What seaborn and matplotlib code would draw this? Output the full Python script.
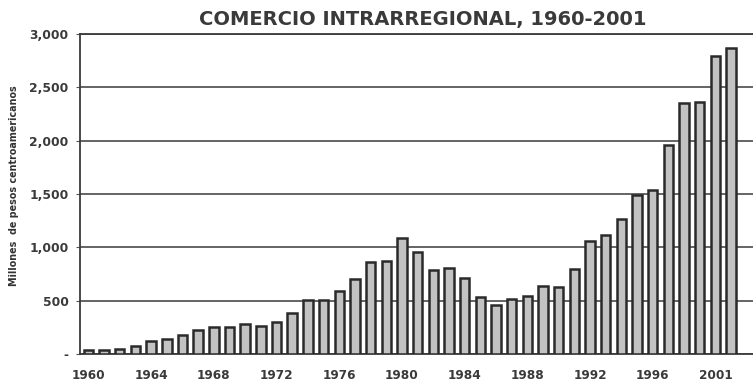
import matplotlib
matplotlib.use("Agg")
import matplotlib.pyplot as plt
import seaborn as sns
import pandas as pd
import numpy as np

# Intraregional trade, millions of Central American pesos
years = list(range(1960, 2002))
values = [35, 40, 45, 72, 125, 140, 180, 225, 250, 255,
          285, 260, 300, 382, 510, 507, 592, 705, 860, 872,
          1091, 954, 792, 804, 710, 532, 457, 513, 544, 638,
          626, 797, 1063, 1119, 1266, 1491, 1541, 1963, 2351, 2360,
          2792, 2870]
tick_labels = ["1960", "1964", "1968", "1972", "1976", "1980",
               "1984", "1988", "1992", "1996", "2001"]
y_ticks = [0, 500, 1000, 1500, 2000, 2500, 3000]
y_tick_labels = ["-", "500", "1,000", "1,500", "2,000", "2,500", "3,000"]

df = pd.DataFrame({"year": [str(y) for y in years], "value": values})

sns.set_theme(style="white")
plt.rcParams["font.family"] = ["DejaVu Sans"]

fig = plt.figure(figsize=(7.53, 3.82), dpi=100)
ax = fig.add_axes([0.106, 0.073, 0.894, 0.838])

sns.barplot(data=df, x="year", y="value", color="#c2c2c2",
            edgecolor="#2a2a2a", linewidth=1.8, width=0.6,
            saturation=1, ax=ax, zorder=3)

ax.set_ylim(0, 3000)
ax.set_xlim(-0.55, 42.4)
ax.set_yticks(y_ticks)
ax.set_yticklabels(y_tick_labels, fontsize=8.8, fontweight="bold", color="#3a3a3a")
ax.set_xticks(range(0, 42, 4))
ax.set_xticklabels(tick_labels, fontsize=8.7, fontweight="bold", color="#3a3a3a")
ax.set_xticks(np.arange(-0.5, 42, 1), minor=True)
ax.tick_params(axis="x", which="major", length=0, pad=11)
ax.tick_params(axis="x", which="minor", length=3, width=0.8, color="#555555")
ax.tick_params(axis="y", length=3, width=0.8, color="#555555", pad=5, left=True)

ax.yaxis.grid(True, color="#3a3a3a", linewidth=1.1, zorder=0)
ax.set_axisbelow(True)
for side in ["left", "top", "bottom"]:
    ax.spines[side].set_visible(True)
    ax.spines[side].set_color("#3a3a3a")
    ax.spines[side].set_linewidth(1.3)
ax.spines["right"].set_visible(False)

ax.set_xlabel("")
ax.set_ylabel("")
fig.text(14 / 753, 0.515, "Millones  de pesos centroamericanos", rotation=90,
         ha="center", va="center", fontsize=6.9, fontweight="bold",
         color="#333333")

fig.text(0.561, 0.949, "COMERCIO INTRARREGIONAL, 1960-2001",
         ha="center", va="center", fontsize=14, fontweight="bold",
         color="#3a3a3a")

fig.savefig("out.png", dpi=100)
